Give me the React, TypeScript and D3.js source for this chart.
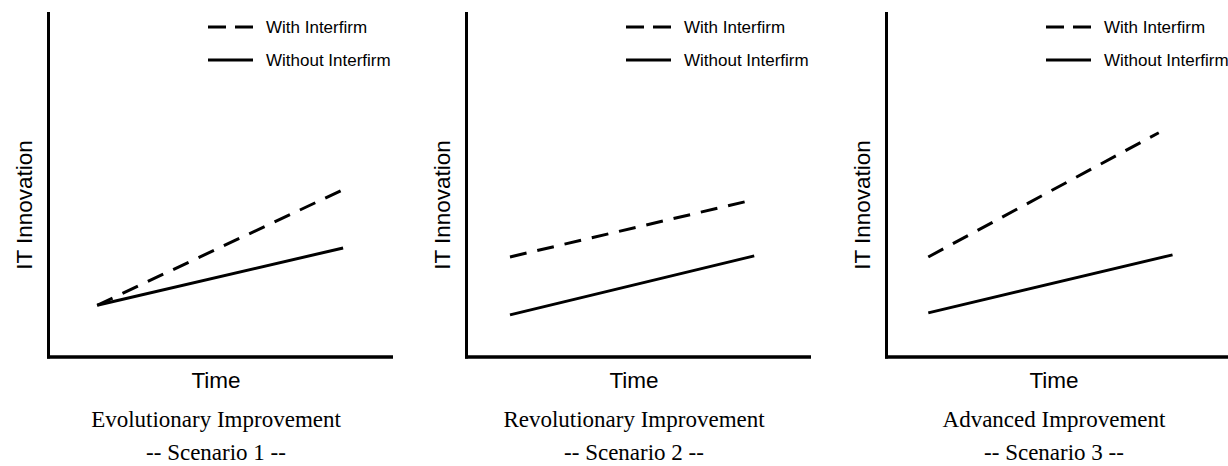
import React from "react";
import * as d3 from "d3";

// time points (start / end) and IT innovation levels for each scenario
const scenarios = ["Scenario 1", "Scenario 2", "Scenario 3"];
const titles = ["Evolutionary Improvement", "Revolutionary Improvement", "Advanced Improvement"];

const withTime = [[1.4, 8.55], [1.25, 8.3], [1.2, 7.9]];
const withValues = [[15, 48.5], [29, 45.5], [29, 65]];

const withoutTime = [[1.4, 8.55], [1.25, 8.35], [1.2, 8.3]];
const withoutValues = [[15, 31.6], [12.2, 29.3], [12.8, 29.6]];

const legendLabels = ["With Interfirm", "Without Interfirm"];

const W = 1228;
const H = 466;
const panelOffsets = [0, 418, 838];

const x = d3.scaleLinear().domain([0, 10]).range([49, 393]);
const y = d3.scaleLinear().domain([0, 100]).range([357, 12]);

const line = d3
  .line<[number, number]>()
  .x((d) => x(d[0]))
  .y((d) => y(d[1]));

const sans = "Arial, 'Liberation Sans', sans-serif";
const serif = "'Times New Roman', 'Liberation Serif', serif";

function Panel({ i }: { i: number }) {
  const dashed = withTime[i].map((t, k) => [t, withValues[i][k]] as [number, number]);
  const solid = withoutTime[i].map((t, k) => [t, withoutValues[i][k]] as [number, number]);
  const cx = 216;

  return (
    <g transform={`translate(${panelOffsets[i]},0)`}>
      {/* axes */}
      <line x1={x(0) - 0.5} x2={x(0) - 0.5} y1={y(100)} y2={y(0) + 1.5} stroke="#000" strokeWidth={3} />
      <line x1={x(0) - 2} x2={x(10)} y1={y(0)} y2={y(0)} stroke="#000" strokeWidth={3.5} />

      {/* series */}
      <path d={line(dashed) || ""} fill="none" stroke="#000" strokeWidth={3} strokeDasharray="17 11" />
      <path d={line(solid) || ""} fill="none" stroke="#000" strokeWidth={3} />

      {/* legend */}
      <line x1={208} x2={253} y1={27} y2={27} stroke="#000" strokeWidth={3} strokeDasharray="18 9" />
      <line x1={208} x2={253} y1={60} y2={60} stroke="#000" strokeWidth={3} />
      {legendLabels.map((l, k) => (
        <text key={l} x={266} y={27 + k * 33} dy="0.35em" fontFamily={sans} fontSize={17} fill="#000">
          {l}
        </text>
      ))}

      {/* axis titles */}
      <text
        transform={`translate(32,205) rotate(-90)`}
        textAnchor="middle"
        fontFamily={sans}
        fontSize={22.5}
        fill="#000"
      >
        IT Innovation
      </text>
      <text x={cx} y={388} textAnchor="middle" fontFamily={sans} fontSize={22.5} fill="#000">
        Time
      </text>
      <text x={cx} y={427} textAnchor="middle" fontFamily={serif} fontSize={23} fill="#000">
        {titles[i]}
      </text>
      <text x={cx} y={460} textAnchor="middle" fontFamily={serif} fontSize={23} fill="#000">
        {`-- ${scenarios[i]} --`}
      </text>
    </g>
  );
}

export default function App() {
  return (
    <svg
      width={W}
      height={H}
      style={{ position: "absolute", left: 0, top: 0, background: "#fff" }}
    >
      <rect width={W} height={H} fill="#fff" />
      {scenarios.map((s, i) => (
        <Panel key={s} i={i} />
      ))}
    </svg>
  );
}
